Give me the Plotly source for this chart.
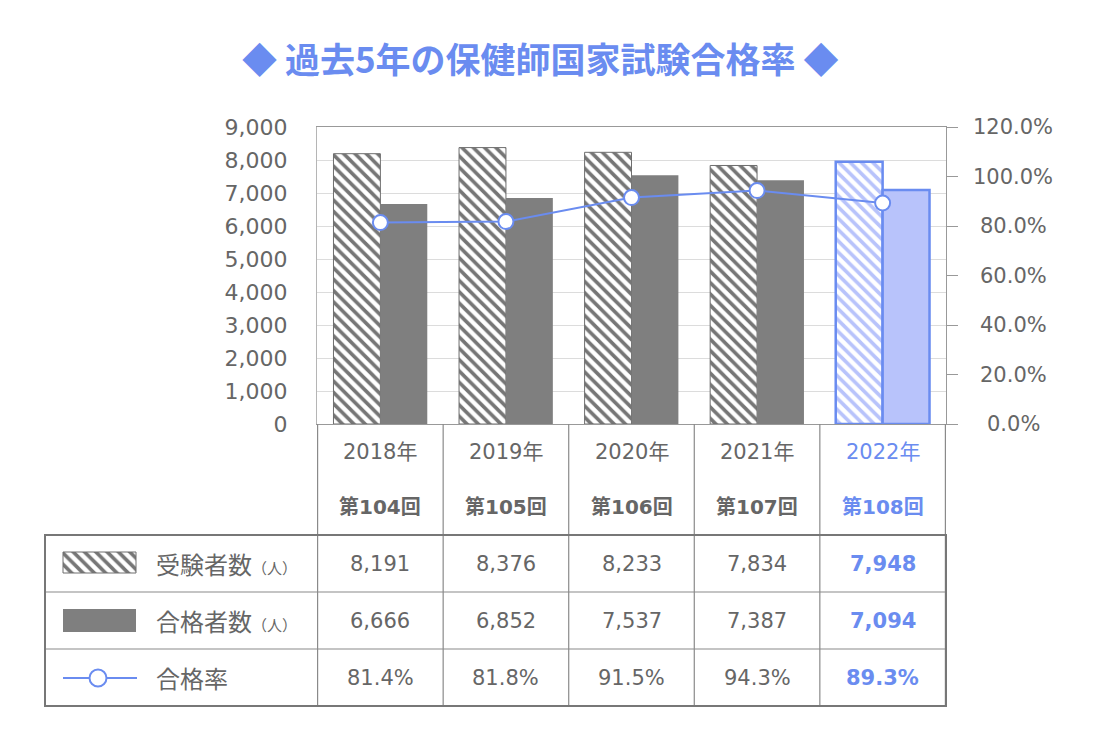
import plotly.graph_objects as go

# data
years = ["2018年", "2019年", "2020年", "2021年", "2022年"]
rounds = ["第104回", "第105回", "第106回", "第107回", "第108回"]
examinees = [8191, 8376, 8233, 7834, 7948]
passers = [6666, 6852, 7537, 7387, 7094]
pass_rate = [81.4, 81.8, 91.5, 94.3, 89.3]
rate_ticks = [0, 20, 40, 60, 80, 100, 120]
row_labels = ["受験者数", "合格者数", "合格率"]

W, H = 1097, 733
OFF = 8  # page body margin
FONT = "DejaVu Sans, Noto Sans CJK JP"
JP = "Noto Sans CJK JP"
GRAY = "#666666"
BAR_GRAY = "#7f7f7f"
BLUE = "#6a8cf0"
LIGHT_BLUE = "#b8c3fb"


def px(x):
    return (x - OFF) / W


def py(y):
    return 1 - (y - OFF) / H


# plot box in pixels (as seen on the page)
L, R, T, B = 317, 946, 127, 424
TABLE_L, ROW_T, ROW_B = 45, 535, 706
row_h = (ROW_B - ROW_T) / 3

last = len(years) - 1
hl = [i == last for i in range(len(years))]

fig = go.Figure()

fig.add_trace(go.Bar(
    x=years, y=examinees, name="受験者数",
    marker=dict(
        color="white",
        line=dict(color=[BLUE if h else "#6e6e6e" for h in hl],
                  width=[2.5 if h else 1 for h in hl]),
        pattern=dict(shape="\\", size=8, solidity=0.45,
                     fgcolor=[LIGHT_BLUE if h else "#767676" for h in hl],
                     bgcolor="white", fillmode="replace"),
    ),
))
fig.add_trace(go.Bar(
    x=years, y=passers, name="合格者数",
    marker=dict(
        color=[LIGHT_BLUE if h else BAR_GRAY for h in hl],
        line=dict(color=[BLUE if h else BAR_GRAY for h in hl],
                  width=[2.5 if h else 0 for h in hl]),
    ),
))
fig.add_trace(go.Scatter(
    x=years, y=pass_rate, yaxis="y2", name="合格率", mode="lines+markers",
    line=dict(color=BLUE, width=2),
    marker=dict(size=15, color="white", line=dict(color=BLUE, width=2)),
    cliponaxis=False,
))

# legend icons inside the table (pixel-unit helper axes)
fig.add_trace(go.Bar(
    x=[99.5], y=[21], base=[552], width=[73], xaxis="x2", yaxis="y3",
    marker=dict(color="white", line=dict(color="#6e6e6e", width=1),
                pattern=dict(shape="\\", size=8, solidity=0.45, fgcolor="#767676",
                             bgcolor="white", fillmode="replace")),
    hoverinfo="skip",
))
fig.add_trace(go.Scatter(
    x=[63, 98, 137], y=[678, 678, 678], xaxis="x2", yaxis="y3", mode="lines",
    line=dict(color=BLUE, width=2), hoverinfo="skip",
))
fig.add_trace(go.Scatter(
    x=[98], y=[678], xaxis="x2", yaxis="y3", mode="markers",
    marker=dict(size=17, color="white", line=dict(color=BLUE, width=2)),
    hoverinfo="skip", cliponaxis=False,
))

shapes = [
    dict(type="rect", xref="x2", yref="y3", x0=63, x1=136, y0=609, y1=632,
         fillcolor=BAR_GRAY, line=dict(width=0)),
]

# table lines
line_c = "#8a8a8a"
for i in range(len(years) + 1):
    shapes.append(dict(type="line", xref="x", yref="paper", x0=i - 0.5, x1=i - 0.5,
                       y0=py(ROW_B), y1=py(B), line=dict(color=line_c, width=1.2)))
for k in range(1, 3):
    yk = ROW_T + k * row_h
    shapes.append(dict(type="line", xref="paper", yref="paper", x0=px(TABLE_L), x1=px(R),
                       y0=py(yk), y1=py(yk), line=dict(color=line_c, width=1.2)))
shapes.append(dict(type="rect", xref="paper", yref="paper", x0=px(TABLE_L), x1=px(R),
                   y0=py(ROW_B), y1=py(ROW_T), line=dict(color="#777777", width=2)))


def note(text, x, y, size, color=GRAY, xref="paper", yref="paper", xanchor="center",
         family=FONT, weight="normal"):
    return dict(text=text, x=x, y=y, xref=xref, yref=yref, xanchor=xanchor,
                yanchor="middle", showarrow=False,
                font=dict(family=family, size=size, color=color, weight=weight))


annotations = [note("◆ 過去5年の保健師国家試験合格率 ◆", px(540), py(57), 35,
                    color=BLUE, family=JP, weight="bold")]

# right axis tick labels (centred)
for v in rate_ticks:
    annotations.append(note(f"{v:.1f}%", px(1013), v, 21, yref="y2"))

# table header and cells
for i, (yr, rd) in enumerate(zip(years, rounds)):
    c = BLUE if hl[i] else GRAY
    w = "bold" if hl[i] else "normal"
    annotations.append(note(yr, yr, py(452), 21, color=c, xref="x"))
    annotations.append(note(rd, yr, py(507), 20, color=c, xref="x", weight="bold"))
    cells = [f"{examinees[i]:,}", f"{passers[i]:,}", f"{pass_rate[i]:.1f}%"]
    for k, t in enumerate(cells):
        annotations.append(note(t, yr, py(ROW_T + (k + 0.5) * row_h), 21, color=c,
                                xref="x", weight=w))

unit = "<span style='font-size:15px'>（人）</span>"
units = [unit, unit, ""]
for k, lab in enumerate(row_labels):
    annotations.append(note(lab + units[k], px(154), py(ROW_T + (k + 0.5) * row_h), 24,
                            xanchor="left", family=JP))

fig.update_layout(
    width=W, height=H,
    margin=dict(l=0, r=0, t=0, b=0),
    paper_bgcolor="white", plot_bgcolor="white",
    showlegend=False,
    barmode="group", bargap=0.253, bargroupgap=0,
    font=dict(family=FONT, color=GRAY),
    xaxis=dict(domain=[px(L), px(R)], anchor="y", showticklabels=False, ticks="",
               showline=True, linecolor="#999999", linewidth=1.2, mirror=True,
               automargin=False, fixedrange=True),
    yaxis=dict(domain=[py(B), py(T)], range=[0, 9000], dtick=1000, tickformat=",",
               showgrid=True, gridcolor="#dcdcdc", gridwidth=1,
               showline=True, linecolor="#b5b5b5", ticks="", ticklabelstandoff=24,
               tickfont=dict(family=FONT, size=22, color=GRAY), zeroline=False,
               automargin=False),
    yaxis2=dict(overlaying="y", side="right", range=[0, 120], tickvals=rate_ticks,
                showticklabels=False, showgrid=False, zeroline=False,
                showline=True, linecolor="#999999", ticks="outside", ticklen=11,
                tickcolor="#999999", automargin=False),
    xaxis2=dict(domain=[px(TABLE_L), px(L)], anchor="y3", range=[TABLE_L, L],
                visible=False, automargin=False),
    yaxis3=dict(domain=[py(ROW_B), py(ROW_T)], anchor="x2", range=[ROW_B, ROW_T],
                visible=False, automargin=False),
    shapes=shapes,
    annotations=annotations,
)

fig.write_html("out.html")
